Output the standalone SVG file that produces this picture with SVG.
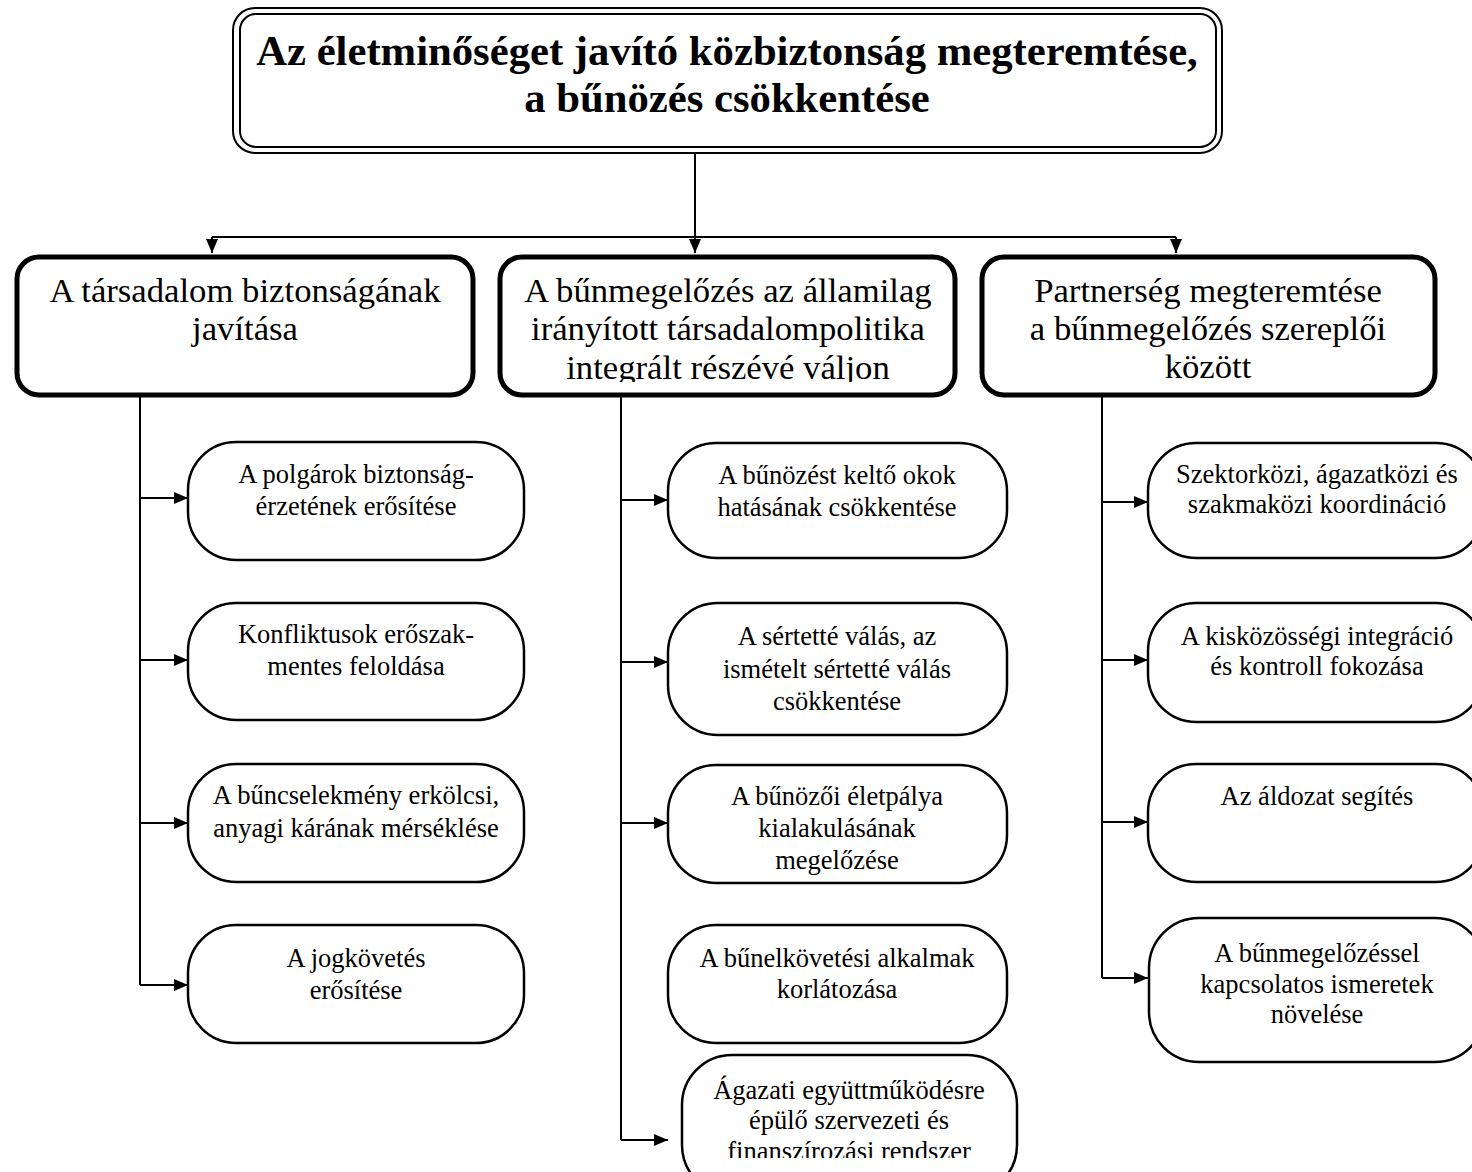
<svg xmlns="http://www.w3.org/2000/svg" width="1472" height="1172" viewBox="0 0 1472 1172">
<style>
  .bg { fill: #ffffff; }
  .conn { fill: none; stroke: #000; stroke-width: 2; }
  .l2 { fill: #fff; stroke: #000; stroke-width: 5; }
  .l3 { fill: #fff; stroke: #000; stroke-width: 2.5; }
  .dbl { fill: none; stroke: #000; stroke-width: 2; }
  text { font-family: "Liberation Serif", "Times New Roman", serif; fill: #000; text-anchor: middle; }
  .t1 { font-size: 42.7px; font-weight: bold; }
  .t2 { font-size: 34.7px; }
  .t3 { font-size: 26.5px; }
</style>
<defs>
  <marker id="arr" viewBox="0 0 14 12" refX="14" refY="6" markerWidth="14" markerHeight="12" markerUnits="userSpaceOnUse" orient="auto">
    <path d="M0,0 L14,6 L0,12 Z" fill="#000"/>
  </marker>
  <clipPath id="clipB2"><rect x="500" y="257" width="455" height="125"/></clipPath>
  <clipPath id="clipC25"><rect x="682" y="1055" width="335" height="103"/></clipPath>
</defs>
<rect class="bg" x="0" y="0" width="1472" height="1172"/>

<g id="connectors">
  <path class="conn" d="M695,153 V253" marker-end="url(#arr)"/>
  <path class="conn" d="M212,237 H1176"/>
  <path class="conn" d="M212,237 V253" marker-end="url(#arr)"/>
  <path class="conn" d="M1176,237 V253" marker-end="url(#arr)"/>
  <path class="conn" d="M140,395 V985"/>
  <path class="conn" d="M140,498 H188" marker-end="url(#arr)"/>
  <path class="conn" d="M140,660 H188" marker-end="url(#arr)"/>
  <path class="conn" d="M140,823 H188" marker-end="url(#arr)"/>
  <path class="conn" d="M140,985 H188" marker-end="url(#arr)"/>
  <path class="conn" d="M621,395 V1140"/>
  <path class="conn" d="M621,500 H668" marker-end="url(#arr)"/>
  <path class="conn" d="M621,662 H668" marker-end="url(#arr)"/>
  <path class="conn" d="M621,823 H668" marker-end="url(#arr)"/>
  <path class="conn" d="M621,1140 H668" marker-end="url(#arr)"/>
  <path class="conn" d="M1102,395 V978"/>
  <path class="conn" d="M1102,502 H1148" marker-end="url(#arr)"/>
  <path class="conn" d="M1102,660 H1148" marker-end="url(#arr)"/>
  <path class="conn" d="M1102,822 H1148" marker-end="url(#arr)"/>
  <path class="conn" d="M1102,978 H1148" marker-end="url(#arr)"/>
</g>

<g id="root">
  <rect x="233" y="8" width="989" height="145" rx="22" fill="#fff" class="dbl"/>
  <rect x="240" y="14" width="976" height="133" rx="16" class="dbl"/>
  <text class="t1" x="727" y="65">Az életminőséget javító közbiztonság megteremtése,</text>
  <text class="t1" x="727" y="112">a bűnözés csökkentése</text>
</g>

<g id="b1">
  <rect class="l2" x="17" y="257" width="456" height="138" rx="22"/>
  <text class="t2" x="245" y="302">A társadalom biztonságának</text>
  <text class="t2" x="245" y="340">javítása</text>
</g>
<g id="b2">
  <rect class="l2" x="500" y="257" width="455" height="138" rx="22"/>
  <g clip-path="url(#clipB2)">
    <text class="t2" x="728" y="302">A bűnmegelőzés az államilag</text>
    <text class="t2" x="728" y="340">irányított társadalompolitika</text>
    <text class="t2" x="728" y="379">integrált részévé váljon</text>
  </g>
</g>
<g id="b3">
  <rect class="l2" x="982" y="257" width="453" height="138" rx="22"/>
  <text class="t2" x="1208" y="302">Partnerség megteremtése</text>
  <text class="t2" x="1208" y="340">a bűnmegelőzés szereplői</text>
  <text class="t2" x="1208" y="378">között</text>
</g>

<g id="c1-1">
  <rect class="l3" x="188" y="442" width="336" height="118" rx="48"/>
  <text class="t3" x="356" y="483">A polgárok biztonság-</text>
  <text class="t3" x="356" y="515">érzetének erősítése</text>
</g>
<g id="c1-2">
  <rect class="l3" x="188" y="603" width="336" height="117" rx="48"/>
  <text class="t3" x="356" y="643">Konfliktusok erőszak-</text>
  <text class="t3" x="356" y="675">mentes feloldása</text>
</g>
<g id="c1-3">
  <rect class="l3" x="188" y="764" width="336" height="118" rx="48"/>
  <text class="t3" x="356" y="804">A bűncselekmény erkölcsi,</text>
  <text class="t3" x="356" y="837">anyagi kárának mérséklése</text>
</g>
<g id="c1-4">
  <rect class="l3" x="188" y="925" width="336" height="118" rx="48"/>
  <text class="t3" x="356" y="967">A jogkövetés</text>
  <text class="t3" x="356" y="999">erősítése</text>
</g>

<g id="c2-1">
  <rect class="l3" x="668" y="443" width="339" height="115" rx="48"/>
  <text class="t3" x="837" y="484">A bűnözést keltő okok</text>
  <text class="t3" x="837" y="516">hatásának csökkentése</text>
</g>
<g id="c2-2">
  <rect class="l3" x="668" y="603" width="339" height="132" rx="50"/>
  <text class="t3" x="837" y="645">A sértetté válás, az</text>
  <text class="t3" x="837" y="678">ismételt sértetté válás</text>
  <text class="t3" x="837" y="710">csökkentése</text>
</g>
<g id="c2-3">
  <rect class="l3" x="668" y="765" width="339" height="118" rx="48"/>
  <text class="t3" x="837" y="805">A bűnözői életpálya</text>
  <text class="t3" x="837" y="837">kialakulásának</text>
  <text class="t3" x="837" y="869">megelőzése</text>
</g>
<g id="c2-4">
  <rect class="l3" x="668" y="925" width="339" height="118" rx="48"/>
  <text class="t3" x="837" y="967">A bűnelkövetési alkalmak</text>
  <text class="t3" x="837" y="998">korlátozása</text>
</g>
<g id="c2-5">
  <rect class="l3" x="682" y="1055" width="335" height="140" rx="50"/>
  <g clip-path="url(#clipC25)">
    <text class="t3" x="849" y="1099">Ágazati együttműködésre</text>
    <text class="t3" x="849" y="1129">épülő szervezeti és</text>
    <text class="t3" x="849" y="1160">finanszírozási rendszer</text>
  </g>
</g>

<g id="c3-1">
  <rect class="l3" x="1148" y="443" width="336" height="115" rx="48"/>
  <text class="t3" x="1317" y="483">Szektorközi, ágazatközi és</text>
  <text class="t3" x="1317" y="513">szakmaközi koordináció</text>
</g>
<g id="c3-2">
  <rect class="l3" x="1148" y="603" width="336" height="119" rx="48"/>
  <text class="t3" x="1317" y="645">A kisközösségi integráció</text>
  <text class="t3" x="1317" y="675">és kontroll fokozása</text>
</g>
<g id="c3-3">
  <rect class="l3" x="1148" y="764" width="336" height="118" rx="48"/>
  <text class="t3" x="1317" y="805">Az áldozat segítés</text>
</g>
<g id="c3-4">
  <rect class="l3" x="1149" y="918" width="336" height="144" rx="50"/>
  <text class="t3" x="1317" y="962">A bűnmegelőzéssel</text>
  <text class="t3" x="1317" y="993">kapcsolatos ismeretek</text>
  <text class="t3" x="1317" y="1023">növelése</text>
</g>
</svg>
